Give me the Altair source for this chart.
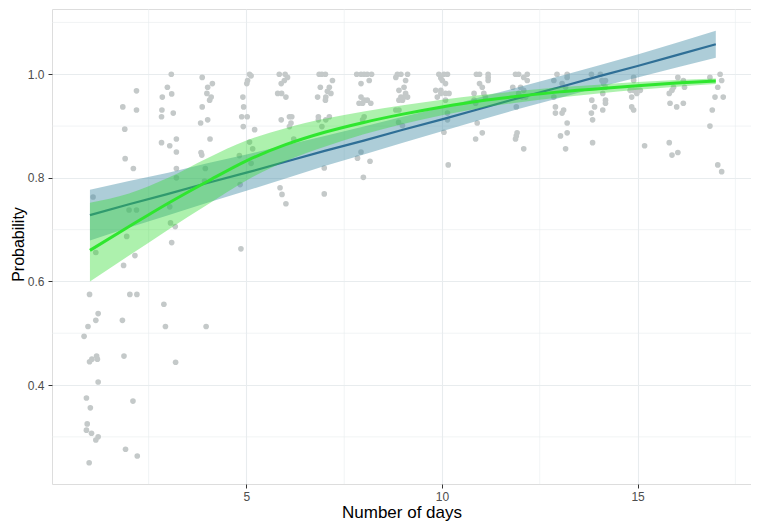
import altair as alt
import pandas as pd

# ---- observed points (jittered days, probability) ----
DAYS = [
    1.08, 1.15, 0.99, 1.21, 1.15, 0.95, 0.85, 1.17, 1.05, 0.99, 1.19, 1.21, 0.91, 1.01, 0.93, 0.91, 1.04, 1.21, 1.15, 0.98,
    1.84, 2.19, 2.19, 1.89, 1.90, 2.11, 2.00, 2.19, 1.94, 2.15, 1.86, 2.02, 2.20, 1.83, 1.87, 2.10, 1.91, 2.21,
    3.08, 2.98, 3.09, 2.85, 2.84, 2.83, 3.13, 2.83, 3.04, 3.21, 3.21, 3.21, 3.21, 3.04, 3.06, 3.18, 3.09, 2.89, 2.93, 3.19,
    3.87, 4.13, 4.01, 3.99, 4.10, 4.06, 3.87, 4.01, 3.83, 4.07, 3.84, 3.86, 3.95, 3.93, 3.97,
    5.08, 5.12, 5.03, 5.01, 4.91, 4.93, 4.88, 5.02, 4.92, 5.21, 5.08, 5.16, 4.82, 5.12, 4.84, 4.86,
    5.84, 5.99, 6.05, 5.97, 5.89, 5.80, 5.90, 6.01, 6.10, 6.16, 5.89, 6.14, 6.10, 6.21, 5.86, 5.91, 6.01,
    6.86, 6.93, 7.02, 7.20, 6.89, 7.12, 7.07, 7.16, 6.82, 7.03, 7.02, 6.84, 7.12, 6.84, 7.03, 6.93, 6.99, 6.99,
    7.82, 7.93, 8.01, 8.09, 8.20, 8.14, 7.93, 7.93, 8.01, 8.09, 8.18, 7.88, 7.97, 8.01, 7.97, 7.93, 7.84, 8.16, 7.99,
    8.86, 8.95, 9.12, 8.82, 9.07, 9.03, 8.90, 9.07, 8.95, 9.03, 9.12, 8.90, 8.99, 8.82, 8.90, 8.89, 8.99,
    9.92, 10.05, 10.14, 9.97, 10.01, 10.09, 9.84, 9.97, 9.97, 10.09, 10.18, 9.88, 10.09, 10.14, 10.14, 10.05, 10.16,
    10.88, 10.96, 11.18, 11.18, 11.18, 10.96, 11.03, 10.82, 11.07, 11.11, 10.82, 10.86, 10.90, 11.03, 10.86,
    11.88, 11.96, 12.18, 12.09, 12.18, 11.81, 12.01, 12.09, 11.96, 12.05, 12.14, 11.90, 11.92, 11.90, 11.88, 12.09,
    12.94, 13.20, 13.20, 12.86, 13.07, 13.16, 12.86, 12.90, 13.11, 13.07, 12.90, 13.20, 13.20, 13.03, 13.16,
    13.82, 14.05, 14.09, 14.18, 14.13, 14.18, 14.11, 13.83, 14.18, 14.18, 13.90, 14.11, 13.82, 13.85, 13.85,
    14.90, 14.90, 14.81, 14.90, 14.98, 15.07, 14.85, 14.98, 14.85, 14.90, 15.18,
    16.03, 16.17, 16.20, 15.92, 15.88, 15.81, 15.83, 16.00, 16.17, 15.81, 15.88, 16.03,
    16.85, 17.11, 17.15, 17.05, 16.98, 17.19, 16.91, 16.85, 17.05, 17.15,
]
PROB = [
    0.763, 0.656, 0.575, 0.538, 0.525, 0.513, 0.494, 0.456, 0.450, 0.445, 0.450, 0.406, 0.375, 0.356, 0.325, 0.313, 0.307, 0.300, 0.294, 0.250,
    0.937, 0.968, 0.931, 0.894, 0.837, 0.818, 0.738, 0.738, 0.687, 0.650, 0.631, 0.575, 0.575, 0.525, 0.456, 0.369, 0.276, 0.263,
    1.000, 0.975, 0.962, 0.956, 0.931, 0.918, 0.925, 0.868, 0.862, 0.875, 0.850, 0.818, 0.800, 0.744, 0.713, 0.706, 0.675, 0.556, 0.513, 0.444,
    0.994, 0.982, 0.975, 0.963, 0.956, 0.950, 0.937, 0.912, 0.906, 0.875, 0.849, 0.844, 0.818, 0.794, 0.513,
    1.000, 0.997, 0.988, 0.982, 0.956, 0.937, 0.918, 0.918, 0.899, 0.893, 0.869, 0.856, 0.843, 0.828, 0.787, 0.663,
    1.000, 1.000, 0.994, 0.988, 0.982, 0.963, 0.963, 0.956, 0.918, 0.918, 0.912, 0.906, 0.899, 0.875, 0.781, 0.768, 0.750,
    1.000, 1.000, 1.000, 0.988, 0.975, 0.975, 0.967, 0.963, 0.956, 0.956, 0.950, 0.918, 0.918, 0.912, 0.912, 0.899, 0.819, 0.769,
    1.000, 1.000, 1.000, 1.000, 1.000, 0.988, 0.982, 0.956, 0.950, 0.950, 0.944, 0.944, 0.944, 0.918, 0.912, 0.850, 0.838, 0.832, 0.801,
    1.000, 1.000, 1.000, 0.994, 0.988, 0.975, 0.969, 0.963, 0.956, 0.956, 0.956, 0.950, 0.950, 0.931, 0.931, 0.907, 0.901,
    1.000, 1.000, 1.000, 0.993, 0.988, 0.982, 0.969, 0.969, 0.963, 0.963, 0.963, 0.956, 0.950, 0.925, 0.912, 0.888, 0.825,
    1.000, 1.000, 1.000, 0.994, 0.988, 0.982, 0.975, 0.963, 0.963, 0.956, 0.950, 0.944, 0.906, 0.887, 0.875,
    1.000, 1.000, 1.000, 0.994, 0.988, 0.975, 0.975, 0.969, 0.963, 0.956, 0.956, 0.937, 0.887, 0.881, 0.875, 0.856,
    1.000, 1.000, 0.994, 0.988, 0.982, 0.975, 0.956, 0.937, 0.931, 0.925, 0.925, 0.906, 0.887, 0.881, 0.856,
    1.000, 1.000, 0.988, 0.988, 0.982, 0.975, 0.963, 0.950, 0.950, 0.944, 0.937, 0.931, 0.925, 0.912, 0.868,
    0.994, 0.988, 0.969, 0.969, 0.969, 0.969, 0.956, 0.963, 0.937, 0.931, 0.862,
    0.994, 0.988, 0.975, 0.975, 0.969, 0.963, 0.944, 0.937, 0.944, 0.868, 0.844, 0.849,
    0.994, 1.000, 0.988, 0.975, 0.956, 0.956, 0.931, 0.900, 0.825, 0.812,
]

# ---- fitted curves ----
FIT_DAYS = [1, 2, 3, 4, 5, 6, 7, 8, 9, 10, 11, 12, 13, 14, 15, 16, 17]
LIN_FIT = [0.728, 0.749, 0.769, 0.790, 0.810, 0.831, 0.852, 0.872, 0.893,
           0.913, 0.934, 0.955, 0.975, 0.996, 1.016, 1.037, 1.058]
LIN_HALF = [0.049, 0.045, 0.041, 0.038, 0.035, 0.032, 0.029, 0.027, 0.025,
            0.023, 0.022, 0.021, 0.021, 0.021, 0.022, 0.024, 0.026]
GLM_FIT = [0.660, 0.706, 0.751, 0.793, 0.833, 0.864, 0.888, 0.907, 0.923,
           0.937, 0.949, 0.958, 0.966, 0.972, 0.978, 0.983, 0.987]
GLM_LO = [0.600, 0.650, 0.700, 0.748, 0.795, 0.832, 0.860, 0.884, 0.904,
          0.921, 0.935, 0.946, 0.955, 0.963, 0.970, 0.976, 0.981]
GLM_HI = [0.752, 0.770, 0.800, 0.838, 0.872, 0.896, 0.914, 0.928, 0.940,
          0.951, 0.960, 0.968, 0.975, 0.980, 0.985, 0.989, 0.992]

X_MINOR = [2.5, 7.5, 12.5, 17.5]
Y_MINOR = [0.3, 0.5, 0.7, 0.9, 1.1]
X_TICKS = [5, 10, 15]
Y_TICKS = [0.4, 0.6, 0.8, 1.0]

pts = pd.DataFrame({"days": DAYS, "prob": PROB})
fit = pd.DataFrame({
    "days": FIT_DAYS,
    "lin": LIN_FIT,
    "lin_lo": [f - h for f, h in zip(LIN_FIT, LIN_HALF)],
    "lin_hi": [f + h for f, h in zip(LIN_FIT, LIN_HALF)],
    "glm": GLM_FIT,
    "glm_lo": GLM_LO,
    "glm_hi": GLM_HI,
})
xminor = pd.DataFrame({"days": X_MINOR})
yminor = pd.DataFrame({"prob": Y_MINOR})

FONT = "Liberation Sans"
GRID = "#e8ecee"

xscale = alt.Scale(domain=[0.03, 17.9], nice=False, zero=False)
yscale = alt.Scale(domain=[0.209, 1.126], nice=False, zero=False)

xaxis = alt.Axis(values=X_TICKS, title="Number of days", format="d", grid=True,
                 gridColor=GRID, gridWidth=1.1, domain=False, tickColor="#333333",
                 tickSize=4, labelPadding=3, labelFontSize=12, labelColor="#4d4d4d",
                 labelFont=FONT, titleFont=FONT, titleFontSize=17, titleFontWeight="normal",
                 titleColor="#000000", titlePadding=2)
yaxis = alt.Axis(values=Y_TICKS, title="Probability", format=".1f", grid=True,
                 gridColor=GRID, gridWidth=1.1, domain=False, tickColor="#333333",
                 tickSize=4, labelPadding=4, labelFontSize=12, labelColor="#4d4d4d",
                 labelFont=FONT, titleFont=FONT, titleFontSize=16, titleFontWeight="normal",
                 titleColor="#000000", titleX=-26, titleY=235)

X = lambda f: alt.X(f, type="quantitative", scale=xscale, axis=xaxis)
Y = lambda f: alt.Y(f, type="quantitative", scale=yscale, axis=yaxis)

minor_x = alt.Chart(xminor).mark_rule(color=GRID, strokeWidth=0.6).encode(x=X("days"))
minor_y = alt.Chart(yminor).mark_rule(color=GRID, strokeWidth=0.6).encode(y=Y("prob"))

points = alt.Chart(pts).mark_circle(size=32, color="#c4c9c9", opacity=1).encode(
    x=X("days"), y=Y("prob"))

lin_band = alt.Chart(fit).mark_area(color="#4a90a8", opacity=0.45).encode(
    x=X("days"), y=Y("lin_lo"), y2="lin_hi")
lin_line = alt.Chart(fit).mark_line(color="#2f6f96", strokeWidth=2.2).encode(
    x=X("days"), y=Y("lin"))
glm_band = alt.Chart(fit).mark_area(color="#33dd33", opacity=0.4, interpolate="monotone").encode(
    x=X("days"), y=Y("glm_lo"), y2="glm_hi")
glm_line = alt.Chart(fit).mark_line(color="#2fe62f", strokeWidth=3, interpolate="monotone").encode(
    x=X("days"), y=Y("glm"))

chart = alt.layer(minor_x, minor_y, points, lin_band, lin_line, glm_band, glm_line).properties(
    width=699, height=475,
    padding={"left": 44, "top": 1, "right": 0, "bottom": 38},
    autosize=alt.AutoSizeParams(type="none"),
).configure_view(stroke="#333333", strokeWidth=1.2).configure(background="white")

chart.save("out.html", embed_options={"renderer": "svg", "actions": False})
